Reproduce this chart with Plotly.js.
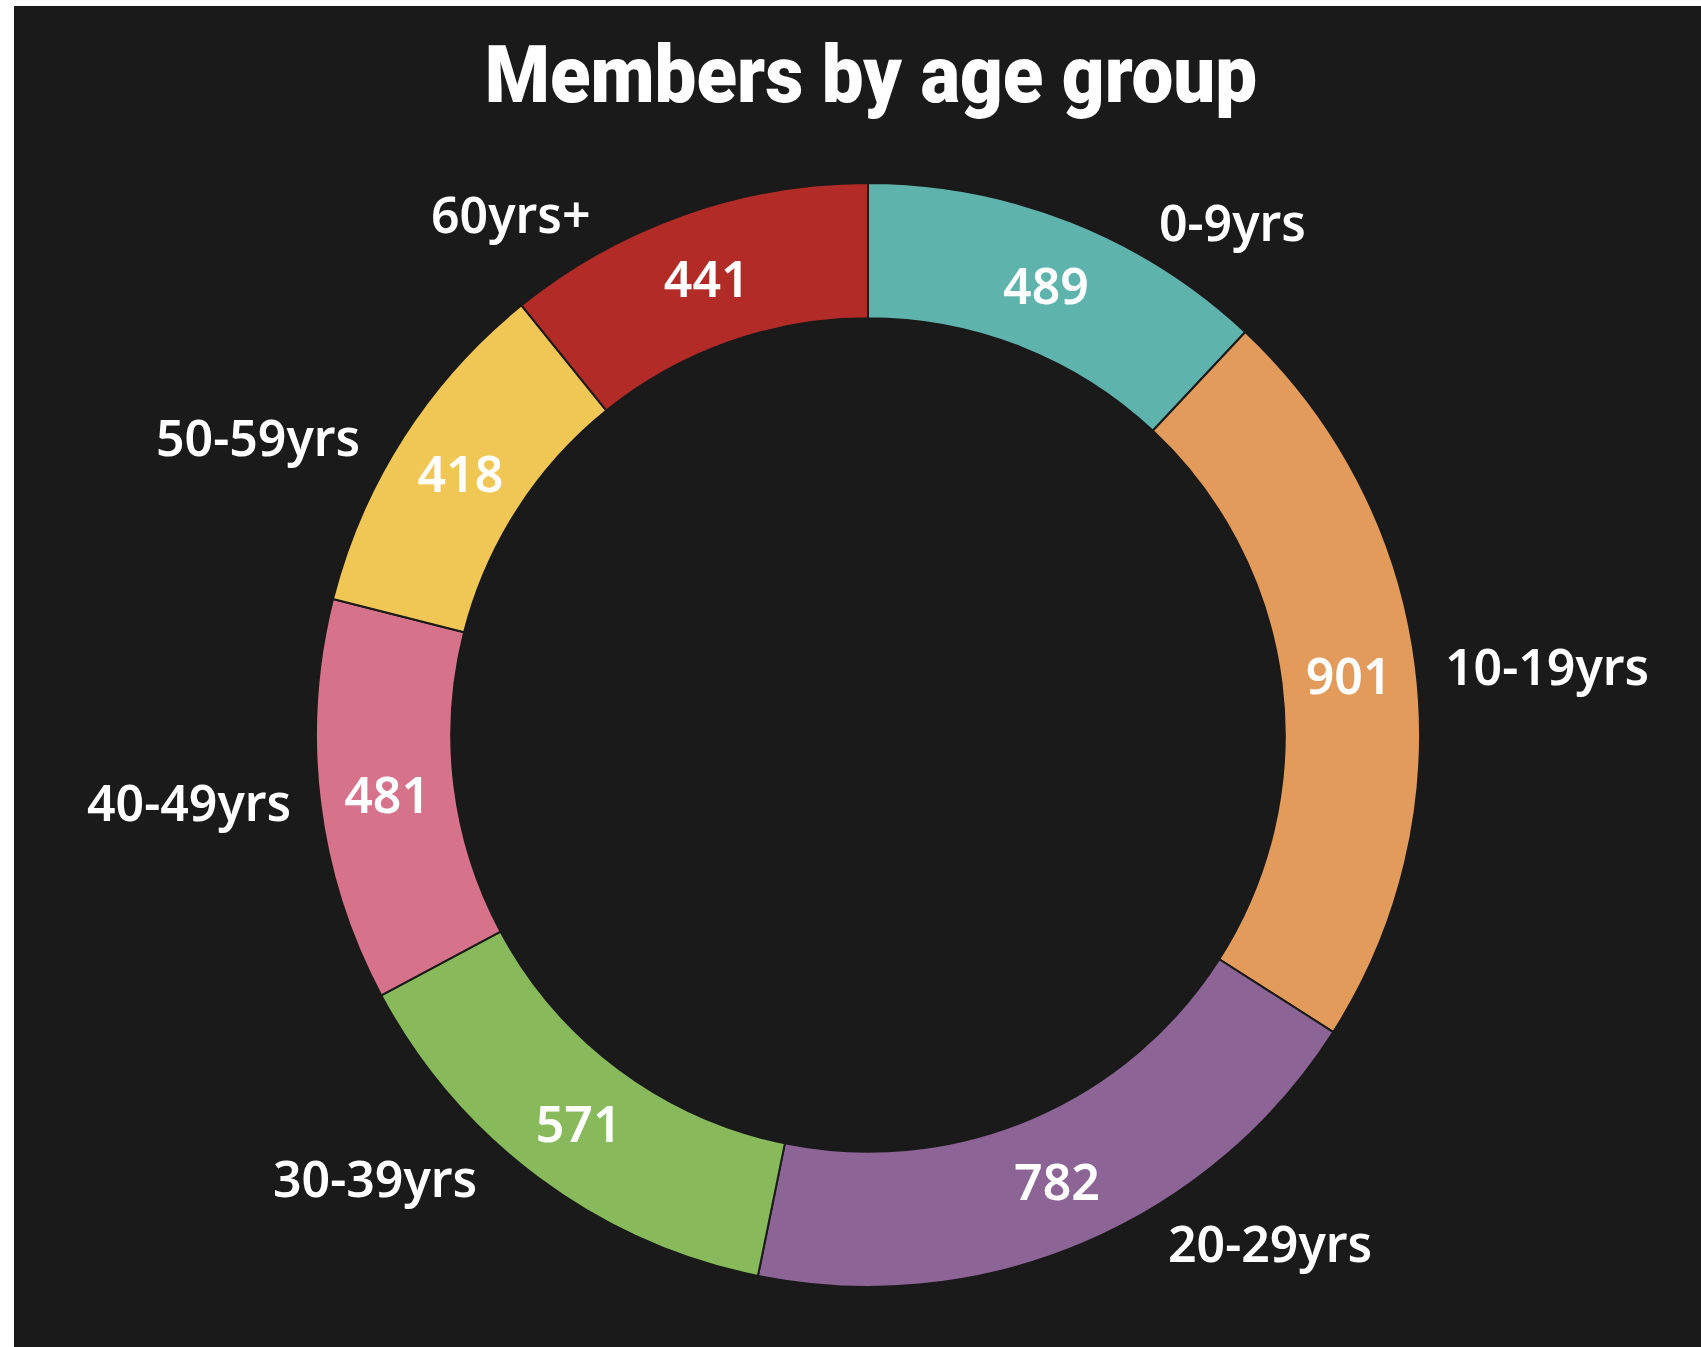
<!DOCTYPE html>
<html><head><meta charset="utf-8">
<script src="https://cdn.plot.ly/plotly-3.0.1.min.js"></script>
<style>
html,body{margin:0;padding:0;background:#ffffff;}
#chart{position:absolute;left:14px;top:6px;width:1687px;height:1341px;}
#chart .gtitle{transform-box:fill-box;transform-origin:50% 50%;transform:scaleX(0.93);}
</style></head><body>
<div id="chart"></div>
<script>
const categories = ['0-9yrs', '10-19yrs', '20-29yrs', '30-39yrs', '40-49yrs', '50-59yrs', '60yrs+'];
const members = [489, 901, 782, 571, 481, 418, 441];
const sliceColors = ['#5eb3ad', '#e29b5b', '#8c6495', '#88b95a', '#d6738b', '#f0c755', '#b32b27'];
const chartTitle = 'Members by age group';

const W = 1687, H = 1341;
const bg = '#1a1a1a';
const labelSize = 50;
const labelFont = {family: '"Noto Sans", "Open Sans", sans-serif', size: labelSize, color: '#ffffff', weight: 600};

const domain = {x: [302 / W, 1406 / W], y: [60 / H, 1164 / H]};

const ring = {
  type: 'pie',
  labels: categories,
  values: members,
  sort: false,
  direction: 'clockwise',
  rotation: 0,
  hole: 0.755,
  domain: domain,
  marker: {colors: sliceColors, line: {color: bg, width: 2}},
  textinfo: 'value',
  textposition: 'inside',
  insidetextorientation: 'horizontal',
  insidetextfont: labelFont,
  hoverinfo: 'label+value',
  showlegend: false
};

// Outer category labels: placed at each slice's mid-angle, pushed just clear of the ring
const cx = (domain.x[0] + domain.x[1]) / 2 * W;
const cy = (1 - (domain.y[0] + domain.y[1]) / 2) * H;
const R = (domain.x[1] - domain.x[0]) / 2 * W;
const halfH = 0.58 * labelSize;
const gap = 24;
const total = members.reduce((a, b) => a + b, 0);
let cum = 0;
const annotations = categories.map((cat, i) => {
  const mid = (cum + members[i] / 2) / total * 2 * Math.PI;
  cum += members[i];
  const s = Math.sin(mid), c = Math.cos(mid);
  const py = cy - R * c;
  const side = s >= 0 ? 1 : -1;
  const top = py - halfH, bot = py + halfH;
  let nearY;
  if (top <= cy && bot >= cy) nearY = cy;
  else nearY = Math.abs(top - cy) < Math.abs(bot - cy) ? top : bot;
  const dy = nearY - cy;
  const ringX = Math.sqrt(Math.max(R * R - dy * dy, 0));
  const x = cx + side * (ringX + gap);
  return {
    xref: 'paper', yref: 'paper',
    x: x / W, y: 1 - py / H,
    xanchor: side > 0 ? 'left' : 'right',
    yanchor: 'middle',
    text: cat,
    showarrow: false,
    font: labelFont
  };
});

const layout = {
  width: W,
  height: H,
  margin: {l: 0, r: 0, t: 0, b: 0},
  paper_bgcolor: bg,
  plot_bgcolor: bg,
  showlegend: false,
  annotations: annotations,
  title: {
    text: chartTitle,
    x: 857 / W,
    xanchor: 'center',
    y: 1 - 68 / H,
    yanchor: 'middle',
    font: {family: 'Roboto, "Liberation Sans", Arial, sans-serif', size: 80, color: '#ffffff', weight: 900}
  }
};

Plotly.newPlot('chart', [ring], layout, {displayModeBar: false, staticPlot: true});
</script>
</body></html>
